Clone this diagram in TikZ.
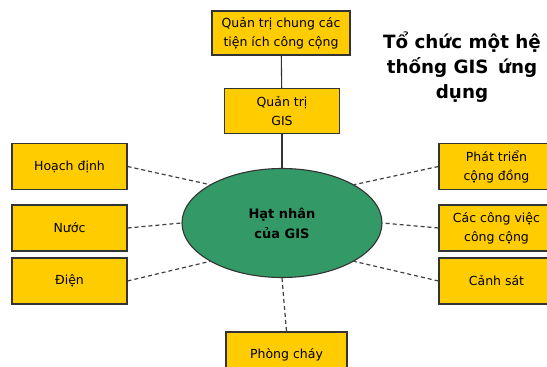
\documentclass[tikz,border=0pt]{standalone}
\usepackage{fontspec}
\setmainfont{DejaVu Sans}
\usetikzlibrary{shapes.geometric}
\definecolor{boxyellow}{HTML}{FFCC00}
\definecolor{coregreen}{HTML}{339966}
\begin{document}
\begin{tikzpicture}[x=1pt,y=-1pt,
	box/.style={draw=black!80,fill=boxyellow,line width=1.1pt,align=center,
		minimum width=115pt,minimum height=46pt,inner sep=0pt,
		font=\fontsize{12.5}{19}\selectfont},
	link/.style={draw=black!75,dash pattern=on 4pt off 3pt,line width=1.2pt},
	spoke/.style={draw=black!80,line width=1.1pt}]
				\useasboundingbox (0,0) rectangle (547,367);
				\node[box,minimum width=138pt,minimum height=44pt] (qtchung) at (281,33) {Quản trị chung các\\tiện ích công cộng};
				\node[box,minimum height=45pt] (qtgis) at (282,111) {Quản trị\\GIS};
				\node[draw=black!80,fill=coregreen,ellipse,line width=1.1pt,minimum width=200pt,minimum height=109pt,
					inner sep=0pt,align=center,font=\fontsize{13}{20}\selectfont\bfseries] (core) at (282,223) {Hạt nhân\\của GIS};
				\node[box] (hoachdinh) at (69.5,166.5) {Hoạch định};
				\node[box] (nuoc) at (69.5,228) {Nước};
				\node[box] (dien) at (69.5,281) {Điện};
				\node[box] (phattrien) at (496.5,166.5) {Phát triển\\cộng đồng};
				\node[box] (congviec) at (496.5,228) {Các công việc\\công cộng};
				\node[box] (canhsat) at (496.5,281) {Cảnh sát};
				\node[box,minimum width=121pt] (phongchay) at (286.5,355) {Phòng cháy};
				\node[align=center,font=\fontsize{18.3}{25}\selectfont\bfseries] (title) at (462,67) {Tổ chức một hệ\\thống GIS\, ứng\\dụng};
				\draw[spoke] (qtchung) -- (qtgis);
				\draw[spoke] (qtgis) -- (core);
				\draw[link] (hoachdinh.east) -- (core.152);
				\draw[link] (nuoc.east) -- (core.west);
				\draw[link] (dien.east) -- (core.208);
				\draw[link] (phattrien.west) -- (core.28);
				\draw[link] (congviec.west) -- (core.east);
				\draw[link] (canhsat.west) -- (core.332);
				\draw[link] (core.south) -- (phongchay.north);
			\end{tikzpicture}
\end{document}
